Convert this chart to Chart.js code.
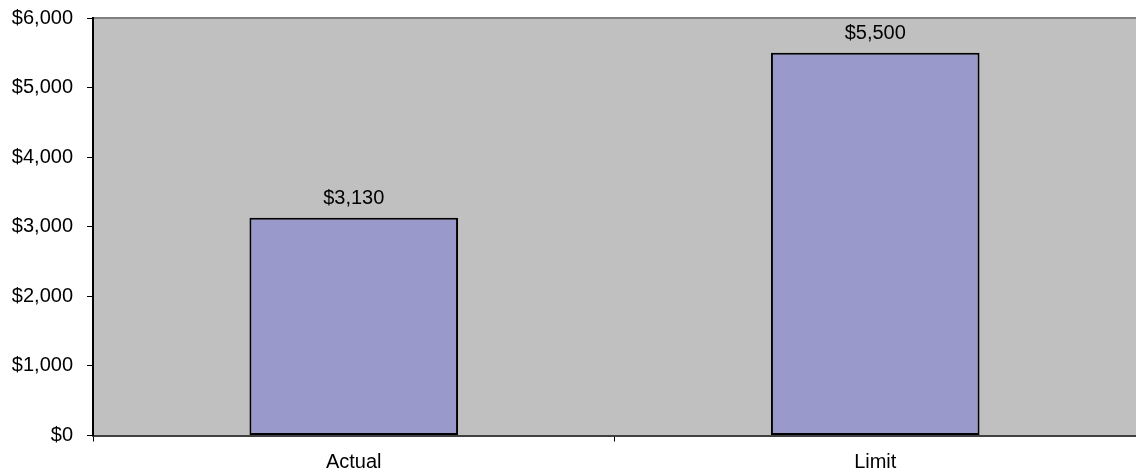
<!DOCTYPE html>
<html>
<head>
<meta charset="utf-8">
<script src="https://cdn.jsdelivr.net/npm/chart.js@4"></script>
<style>
  html, body { margin: 0; padding: 0; background: #fff; }
  #wrap { width: 1136px; height: 474px; }
</style>
</head>
<body>
<div id="wrap"><canvas id="c" width="1136" height="474"></canvas></div>
<script>
const categories = ['Actual', 'Limit'];
const amounts = [3130, 5500];
const yTicks = [0, 1000, 2000, 3000, 4000, 5000, 6000];

const money = v => '$' + v.toLocaleString('en-US');
const FONT = '"Liberation Sans", Arial, sans-serif';

// Grey plot background, top border and value labels above each bar
const plotDecor = {
  id: 'plotDecor',
  beforeDraw(chart) {
    const { ctx, chartArea: a } = chart;
    ctx.save();
    ctx.fillStyle = '#C0C0C0';
    ctx.fillRect(a.left, a.top, a.right - a.left, a.bottom - a.top);
    ctx.strokeStyle = '#808080';
    ctx.lineWidth = 2;
    ctx.beginPath();
    ctx.moveTo(a.left, a.top);
    ctx.lineTo(a.right, a.top);
    ctx.stroke();
    ctx.restore();
  },
  afterDatasetsDraw(chart) {
    const { ctx } = chart;
    const meta = chart.getDatasetMeta(0);
    ctx.save();
    ctx.font = '20px ' + FONT;
    ctx.fillStyle = '#000';
    ctx.textAlign = 'center';
    ctx.textBaseline = 'middle';
    meta.data.forEach((bar, i) => {
      ctx.fillText(money(chart.data.datasets[0].data[i]), bar.x, bar.y - 19);
    });
    ctx.restore();
  }
};

new Chart(document.getElementById('c'), {
  type: 'bar',
  data: {
    labels: categories,
    datasets: [{
      data: amounts,
      backgroundColor: '#9999CC',
      borderColor: '#000000',
      borderWidth: 2,
      borderSkipped: false,
      categoryPercentage: 0.8,
      barPercentage: 0.5
    }]
  },
  options: {
    responsive: false,
    animation: false,
    layout: { padding: { top: 18, right: 0, left: 0, bottom: 0 } },
    plugins: { legend: { display: false }, tooltip: { enabled: false } },
    scales: {
      x: {
        offset: true,
        grid: { offset: true, drawOnChartArea: false, drawTicks: true, tickLength: 6, color: '#000', lineWidth: 1 },
        border: { display: true, color: '#404040', width: 2 },
        ticks: { color: '#000', font: { family: FONT, size: 20 }, padding: 9 },
        afterFit(s) { s.height = 474 - 435.5; s.paddingLeft = 0; s.paddingRight = 0; }
      },
      y: {
        min: 0,
        max: 6000,
        afterBuildTicks(s) { s.ticks = yTicks.map(v => ({ value: v })); },
        grid: { drawOnChartArea: false, drawTicks: true, tickLength: 6, color: '#000', lineWidth: 1 },
        border: { display: true, color: '#000', width: 2 },
        ticks: { color: '#000', font: { family: FONT, size: 20 }, padding: 14, callback: v => money(v) },
        afterFit(s) { s.width = 93; s.paddingTop = 0; s.paddingBottom = 0; }
      }
    }
  },
  plugins: [plotDecor]
});
</script>
</body>
</html>
